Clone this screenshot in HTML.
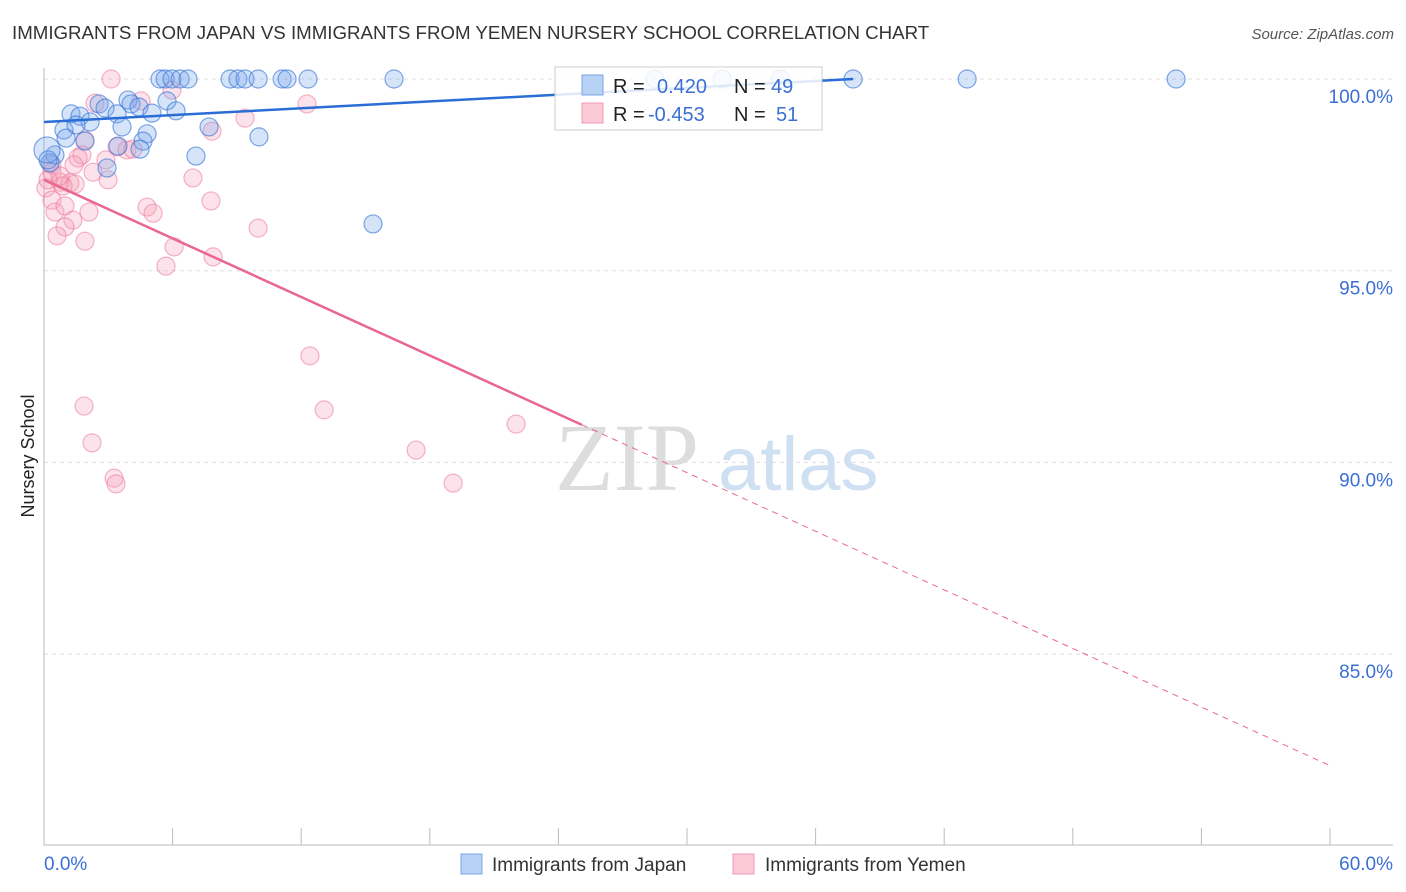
<!DOCTYPE html>
<html><head><meta charset="utf-8"><style>
body{margin:0;background:#fff;font-family:"Liberation Sans",sans-serif}
svg{display:block}
</style></head><body>
<svg id="c" width="1406" height="892">
<text x="12" y="39" font-size="18.7" fill="#333">IMMIGRANTS FROM JAPAN VS IMMIGRANTS FROM YEMEN NURSERY SCHOOL CORRELATION CHART</text>
<text x="1394" y="39" font-size="15" fill="#555" font-style="italic" text-anchor="end">Source: ZipAtlas.com</text>
<text x="34" y="456" font-size="18" fill="#222" text-anchor="middle" transform="rotate(-90 34 456)">Nursery School</text>
<g><text x="555" y="490" font-size="96" font-family="Liberation Serif,serif" fill="#ddd">ZIP</text><text x="718" y="490" font-size="76" fill="#cfe0f3">atlas</text></g>
<g id="grid"></g><g id="axes"></g><g id="pts"></g><g id="lines"></g>
<g>
<rect x="555" y="67" width="267" height="63" fill="#fff" fill-opacity="0.85" stroke="#ccc"/>
<rect x="582" y="75" width="21" height="20" fill="#b8d2f5" stroke="#7aa6e6"/>
<rect x="582" y="103" width="21" height="20" fill="#fcc9d7" stroke="#ee9bb3"/>
<text x="613" y="93" font-size="20" fill="#222">R =</text>
<text x="657" y="93" font-size="20" fill="#3b6fd4">0.420</text>
<text x="734" y="93" font-size="20" fill="#222">N =</text>
<text x="771" y="93" font-size="20" fill="#3b6fd4">49</text>
<text x="613" y="121" font-size="20" fill="#222">R =</text>
<text x="648" y="121" font-size="20" fill="#3b6fd4">-0.453</text>
<text x="734" y="121" font-size="20" fill="#222">N =</text>
<text x="776" y="121" font-size="20" fill="#3b6fd4">51</text>
</g>
<g>
<rect x="461" y="854" width="21" height="20" fill="#b8d2f5" stroke="#7aa6e6"/>
<text x="492" y="871" font-size="19" fill="#333">Immigrants from Japan</text>
<rect x="733" y="854" width="21" height="20" fill="#fcc9d7" stroke="#ee9bb3"/>
<text x="765" y="871" font-size="19" fill="#333">Immigrants from Yemen</text>
</g>
</svg>
<script>
const yTicks=[100,95,90,85];
const yTickLabels=["100.0%","95.0%","90.0%","85.0%"];
const xTickLabels=["0.0%","60.0%"];
const japanX=[5.41,5.65,5.97,6.35,6.72,8.68,9.05,9.38,9.99,11.11,11.34,12.32,16.33,28.51,31.64,34.35,37.75,43.07,52.82,1.26,1.68,2.57,2.85,3.92,4.06,4.43,5.74,6.16,5.04,3.41,2.15,0.93,1.49,3.64,4.81,4.62,1.03,1.91,3.45,4.48,7.70,10.03,7.09,2.94,0.51,0.28,0.19,15.35,0.14];
const japanY=[100,100,100,100,100,100,100,100,100,100,100,100,100,100,100,100,100,100,100,99.09,99.03,99.35,99.24,99.45,99.35,99.27,99.43,99.17,99.11,99.09,98.88,98.67,98.80,98.75,98.57,98.38,98.46,98.38,98.25,98.17,98.75,98.49,97.99,97.68,98.02,97.81,97.89,96.22,98.15];
const yemenX=[3.13,5.97,12.27,4.53,2.38,9.38,7.84,1.91,3.41,3.87,1.77,1.59,2.89,1.40,0.37,0.37,2.29,2.99,6.95,0.75,1.21,1.45,0.89,0.09,0.37,7.79,4.81,5.09,2.10,0.51,0.98,1.35,0.98,0.61,9.99,1.91,6.07,7.89,5.69,12.41,1.87,13.07,22.03,2.24,17.36,3.27,3.36,19.09,0.19,0.75,4.15];
const yemenY=[100,99.71,99.35,99.43,99.37,98.98,98.64,98.41,98.23,98.15,98.02,97.94,97.89,97.76,97.76,97.57,97.57,97.37,97.42,97.31,97.29,97.26,97.21,97.16,96.84,96.82,96.66,96.50,96.53,96.53,96.69,96.32,96.14,95.91,96.11,95.77,95.62,95.36,95.12,92.78,91.47,91.37,91.00,90.51,90.32,89.59,89.44,89.46,97.37,97.47,98.17];
const japanTrend=[[0,98.88],[37.75,100]];
const yemenTrend=[[0,97.37],[25.1,90.98],[60,82.09]];
const NS="http://www.w3.org/2000/svg";
const X=v=>44+v*(1286/60), Y=v=>79+(100-v)*38.34;
function mk(p,t,a){const e=document.createElementNS(NS,t);for(const k in a)e.setAttribute(k,a[k]);document.getElementById(p).appendChild(e);return e;}
yTicks.forEach((t,i)=>{
 const g=mk('grid','line',{x1:44,x2:1393,y1:Y(t),y2:Y(t),stroke:'#ddd','stroke-dasharray':'4,4'});
 
 
 const l=mk('grid','text',{x:1393,y:Y(t)+24,'font-size':19,fill:'#3b6fd4','text-anchor':'end'});
 l.textContent=yTickLabels[i];
 
 
});
const ax=mk('axes','path',{d:'M44 68V845H1393',stroke:'#bbb',fill:'none'});


for(let i=0;i<=10;i++){
 const t=mk('axes','line',{x1:X(i*6),x2:X(i*6),y1:828,y2:845,stroke:'#bbb'});
 
 
}
[[0,'start',44],[60,'end',1393]].forEach((d,i)=>{
 const l=mk('axes','text',{x:d[2],y:870,'font-size':19,fill:'#3b6fd4','text-anchor':d[1]});
 l.textContent=xTickLabels[i];
 
 
});
yemenX.forEach((v,i)=>{
 const c=mk('pts','circle',{cx:X(v),cy:Y(yemenY[i]),r:9,fill:'rgba(246,160,185,0.3)',stroke:'rgba(236,120,155,0.55)','stroke-width':1.2});
 
 
});
japanX.forEach((v,i)=>{
 const c=mk('pts','circle',{cx:X(v),cy:Y(japanY[i]),r:i==48?13:9,fill:'rgba(120,165,235,0.3)',stroke:'rgba(60,120,215,0.65)','stroke-width':1.2});
 
 
});
const bl=mk('lines','line',{x1:X(japanTrend[0][0]),y1:Y(japanTrend[0][1]),x2:X(japanTrend[1][0]),y2:Y(japanTrend[1][1]),stroke:'#2a6dd6','stroke-width':2.5});


const pl=mk('lines','line',{x1:X(yemenTrend[0][0]),y1:Y(yemenTrend[0][1]),x2:X(yemenTrend[1][0]),y2:Y(yemenTrend[1][1]),stroke:'#e8668f','stroke-width':2.5});


const pd=mk('lines','line',{x1:X(yemenTrend[1][0]),y1:Y(yemenTrend[1][1]),x2:X(yemenTrend[2][0]),y2:Y(yemenTrend[2][1]),stroke:'#e8668f','stroke-width':1,'stroke-dasharray':'6,5'});


</script>
</body></html>
